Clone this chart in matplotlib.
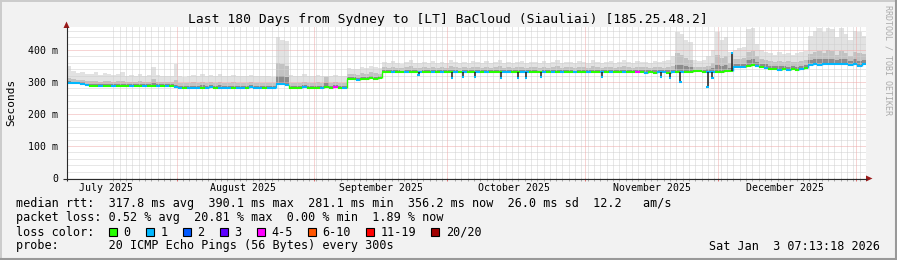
import datetime as dt
import numpy as np
import matplotlib
matplotlib.use("Agg")
import matplotlib.pyplot as plt
import matplotlib.dates as mdates
from matplotlib.patches import Rectangle, Polygon

# ---------------- data ----------------
title = "Last 180 Days from Sydney to [LT] BaCloud (Siauliai) [185.25.48.2]"
start = dt.datetime(2025, 7, 7, 7, 13, 18)
n_days = 180

# median rtt per day (ms)
median_ms = [296, 296, 296, 295, 290,
             288, 288, 289, 288, 288, 288, 287, 288, 288, 289, 288, 288, 287, 288, 288, 288, 289, 288, 288,
             283, 282, 282, 282, 281, 282, 282, 282, 283, 282, 282, 282, 282, 281, 282, 282, 282, 283, 282, 282, 282, 282, 282,
             293, 294, 292,
             282, 282, 282, 283, 282, 282, 282, 282, 284, 282, 283, 282, 282,
             310, 309, 306, 309, 310, 311, 310, 312,
             332, 331, 331, 330, 331, 330, 331, 330, 330, 330,
             331, 330, 331, 330, 330, 331, 331, 330, 330, 330,
             331, 331, 331, 330, 330, 331, 330, 330, 330, 331,
             330, 331, 330, 330, 331, 330, 330, 331, 330, 331,
             330, 330, 331, 330, 331, 330, 330, 331, 330, 330,
             331, 330, 331, 330, 331, 330, 330, 331, 330, 329,
             330, 329, 330,
             330, 328, 330, 331, 331, 332, 332, 333, 333, 332,
             332, 331, 331, 332, 333, 333, 346, 346, 346, 350,
             352, 350, 348, 345, 342, 340, 338, 341, 336, 340,
             338, 341, 344, 354, 355, 354, 356, 355, 357, 356,
             355, 356, 354, 355, 350, 356]

# short single-sample excursions of the median: (day offset, ms)
spike_day = [79.2, 86.7, 89.2, 91.9, 97.7, 101.6, 103.4, 106.8, 120.5,
             133.8, 135.9, 138.2, 144.3, 145.4, 149.8]
spike_ms = [322, 311, 316, 316, 314, 313, 314, 315, 316,
            317, 313, 301, 285, 312, 390]
spike_class = [1, 1, 1, 1, 1, 1, 1, 1, 1,
               1, 1, 1, 1, 1, 1]

# top of the dense smoke per day (ms)
smoke_dense_ms = [312, 308, 306, 306, 302,
                  302, 304, 300, 303, 302, 300, 302, 304, 300, 301, 299, 302, 300, 301, 310, 300, 299, 300, 299,
                  305, 297, 296, 298, 299, 297, 300, 298, 299, 297, 300, 298, 297, 299, 298, 297, 298, 299, 297, 298, 297, 298, 296,
                  360, 355, 350,
                  298, 296, 297, 300, 297, 298, 299, 297, 316, 297, 299, 298, 296,
                  326, 324, 322, 328, 326, 330, 327, 325,
                  346, 344, 348, 345, 343, 346, 349, 345, 344, 347,
                  345, 348, 344, 346, 345, 350, 346, 344, 347, 345,
                  348, 346, 344, 347, 345, 346, 349, 345, 347, 344,
                  346, 348, 345, 347, 346, 344, 348, 345, 346, 349,
                  345, 347, 346, 344, 348, 346, 345, 349, 347, 345,
                  346, 348, 345, 347, 349, 346, 345, 348, 346, 347,
                  345, 348, 346,
                  345, 348, 350, 390, 385, 375, 370, 348, 347, 348,
                  350, 360, 385, 375, 380, 360, 372, 372, 375, 395,
                  398, 380, 372, 370, 365, 362, 366, 364, 365, 362,
                  364, 366, 368, 388, 395, 398, 392, 400, 396, 385,
                  398, 392, 380, 395, 392, 388]

# maximum ping per day (ms)
smoke_max_ms = [350, 335, 328, 330, 326,
                325, 330, 322, 328, 325, 322, 325, 330, 320, 322, 318, 325, 320, 322, 348, 322, 318, 320, 318,
                355, 318, 315, 320, 322, 318, 325, 320, 322, 318, 325, 320, 318, 322, 320, 318, 320, 322, 318, 320, 318, 320, 315,
                440, 432, 428,
                322, 318, 320, 325, 318, 320, 322, 318, 320, 318, 322, 320, 318,
                345, 340, 342, 348, 345, 350, 346, 344,
                362, 358, 365, 360, 356, 362, 368, 360, 358, 364,
                360, 366, 358, 362, 360, 370, 362, 358, 364, 360,
                366, 362, 358, 365, 360, 362, 368, 360, 364, 358,
                362, 366, 360, 364, 362, 358, 366, 360, 362, 368,
                360, 364, 362, 358, 366, 362, 360, 368, 364, 360,
                362, 366, 360, 364, 368, 362, 360, 366, 362, 364,
                360, 366, 362,
                365, 370, 380, 455, 450, 430, 425, 370, 365, 368,
                380, 400, 455, 430, 440, 395, 400, 405, 410, 465,
                470, 420, 400, 395, 390, 385, 395, 388, 392, 385,
                390, 395, 398, 445, 460, 470, 455, 470, 465, 440,
                468, 450, 430, 460, 455, 445]

# loss class per day (index into loss_labels)
loss_class = [1, 1, 1, 1, 1,
              0, 0, 1, 0, 0, 1, 0, 0, 0, 1, 0, 0, 1, 0, 0, 1, 0, 1, 0,
              1, 1, 0, 1, 1, 1, 0, 1, 1, 0, 1, 1, 1, 0, 1, 1, 0, 1, 1, 1, 0, 1, 1,
              1, 1, 1,
              0, 0, 0, 1, 0, 0, 0, 1, 0, 0, 4, 0, 1,
              0, 0, 1, 0, 0, 0, 0, 0,
              0, 0, 1, 0, 0, 1, 0, 0, 1, 0,
              0, 1, 0, 1, 0, 0, 1, 0, 1, 0,
              0, 1, 0, 1, 0, 0, 0, 1, 1, 0,
              0, 1, 1, 0, 0, 0, 1, 0, 1, 0,
              1, 0, 0, 1, 0, 0, 1, 0, 0, 1,
              0, 1, 0, 0, 1, 0, 0, 4, 0, 1,
              0, 0, 1,
              1, 0, 1, 0, 1, 0, 0, 0, 0, 0,
              1, 1, 0, 0, 0, 0, 1, 1, 1, 0,
              0, 1, 0, 1, 0, 0, 1, 0, 1, 0,
              0, 1, 0, 1, 1, 1, 1, 1, 1, 1,
              1, 1, 1, 1, 1, 1]

loss_labels = ["0", "1", "2", "3", "4-5", "6-10", "11-19", "20/20"]
loss_colors = ["#26ff00", "#00b8ff", "#0059ff", "#5e00ff", "#ff00ff", "#ff5500", "#ff0000", "#a10000"]

month_starts = [dt.datetime(2025, m, 1) for m in (8, 9, 10, 11, 12)] + [dt.datetime(2026, 1, 1)]
month_label_dates = [dt.datetime(2025, m, 16) for m in (7, 8, 9, 10, 11, 12)]
month_labels = ["July 2025", "August 2025", "September 2025", "October 2025", "November 2025", "December 2025"]

y_ticks = [0, 100, 200, 300, 400]
y_tick_labels = ["0", "100 m", "200 m", "300 m", "400 m"]

legend_lines = [
    "median rtt:  317.8 ms avg  390.1 ms max  281.1 ms min  356.2 ms now  26.0 ms sd  12.2   am/s",
    "packet loss: 0.52 % avg  20.81 % max  0.00 % min  1.89 % now",
]
probe_text = "probe:       20 ICMP Echo Pings (56 Bytes) every 300s"
stamp_text = "Sat Jan  3 07:13:18 2026"

# ---------------- figure ----------------
W, H = 897, 260
MONO = "DejaVu Sans Mono"
fig = plt.figure(figsize=(W / 100, H / 100), dpi=100)
fig.patch.set_facecolor("#f2f2f2")

ax = fig.add_axes([67 / W, (H - 178) / H, 799 / W, 151 / H])
ax.set_facecolor("#ffffff")
t0 = mdates.date2num(start)
x_edges = t0 + np.arange(n_days + 1)
ax.set_xlim(t0, t0 + n_days)
ax.set_ylim(0, 151 * 3.125)
for s in ax.spines.values():
    s.set_visible(False)

med = np.array(median_ms, float)
dense = np.array(smoke_dense_ms, float)
mx = np.array(smoke_max_ms, float)

def ext(a):
    return np.r_[a, a[-1]]

ax.fill_between(x_edges, ext(med), ext(mx), step="post", color="#e2e2e2", lw=0, zorder=1)
ax.fill_between(x_edges, ext(med), ext(dense), step="post", color="#c2c2c2", lw=0, zorder=1.1)
ax.fill_between(x_edges, ext(med), ext(med + 0.4 * (dense - med)), step="post",
                color="#8c8c8c", lw=0, zorder=1.2)

# grid (dotted)
minor_c = "#d0d0d0"
major_c = "#eeaaaa"
gkw = dict(lw=0.72, ls=(0, (1, 1)))
for v in range(20, 480, 20):
    if v % 100:
        ax.axhline(v, color=minor_c, zorder=2, **gkw)
for v in y_ticks[1:]:
    ax.axhline(v, color=major_c, zorder=2.1, **gkw)
aug1 = mdates.date2num(month_starts[0])
k = np.arange(-10, 140)
minor_x = aug1 + 1.425 * k
minor_x = minor_x[(minor_x > t0) & (minor_x < t0 + n_days)]
ms_x = mdates.date2num(month_starts)
minor_x = np.array([xv for xv in minor_x if np.min(np.abs(ms_x - xv)) > 0.3])
for xv in minor_x:
    ax.axvline(xv, color=minor_c, zorder=2, **gkw)
for xv in ms_x:
    ax.axvline(xv, color=major_c, zorder=2.1, **gkw)

# small tick marks under x axis
xt = ax.get_xaxis_transform()
ax.vlines(minor_x, -2.5 / 151, 0, transform=xt, colors="#aaaaaa", lw=0.72, clip_on=False)
ax.vlines(ms_x, -2.5 / 151, 0, transform=xt, colors="#e07070", lw=0.72, clip_on=False)

# median line coloured by loss
cols = [loss_colors[c] for c in loss_class]
ax.hlines(med, x_edges[:-1], x_edges[1:], colors=cols, lw=1.5, zorder=4)
ax.vlines(x_edges[1:-1], med[:-1], med[1:], colors=cols[1:], lw=1.0, zorder=4)

# narrow excursions: dark smoke streak plus coloured tip
sd = t0 + np.array(spike_day)
base = med[np.floor(spike_day).astype(int)]
ax.vlines(sd, base, np.array(spike_ms, float), colors="#1e1e1e", lw=1.1, zorder=4.2)
ax.hlines(np.array(spike_ms, float), sd - 0.25, sd + 0.25,
          colors=[loss_colors[c] for c in spike_class], lw=1.5, zorder=4.3)

# ticks / labels
ax.set_xticks(mdates.date2num(month_label_dates))
ax.set_xticklabels(month_labels, fontfamily=MONO, fontsize=7.1)
ax.set_yticks(y_ticks)
ax.set_yticklabels(y_tick_labels, fontfamily=MONO, fontsize=7.1)
ax.tick_params(axis="x", length=0, pad=3.5)
ax.tick_params(axis="y", length=0, pad=6.2)

# ---------------- overlay in pixel coords ----------------
ov = fig.add_axes([0, 0, 1, 1], zorder=5)
ov.set_xlim(0, W)
ov.set_ylim(H, 0)
ov.axis("off")
ov.patch.set_alpha(0)

axis_c = "#2a2a2a"
arrow_c = "#9a1a1a"
ov.plot([66.5, 66.5], [181, 27], color=axis_c, lw=0.8, solid_capstyle="butt")
ov.plot([63, 867], [178.5, 178.5], color=axis_c, lw=0.8, solid_capstyle="butt")
ov.add_patch(Polygon([[63.5, 28], [69.5, 28], [66.5, 21.5]], closed=True, color=arrow_c, lw=0))
ov.add_patch(Polygon([[866, 175.5], [866, 181.5], [872.5, 178.5]], closed=True, color=arrow_c, lw=0))

ov.text(448, 19, title, ha="center", va="center", fontfamily=MONO, fontsize=9.4, color="#000000")
ov.text(11, 102, "Seconds", rotation=90, ha="center", va="center", fontfamily=MONO, fontsize=8, color="#000000")
ov.text(888, 5, "RRDTOOL / TOBI OETIKER", rotation=270, ha="center", va="top", fontfamily=MONO,
        fontsize=6.0, color="#ababab")

ov.text(16, 204, legend_lines[0], ha="left", va="center", fontfamily=MONO, fontsize=8.5, color="#000000")
ov.text(16, 218, legend_lines[1], ha="left", va="center", fontfamily=MONO, fontsize=8.5, color="#000000")
ov.text(16, 232, "loss color:", ha="left", va="center", fontfamily=MONO, fontsize=8.5, color="#000000")
bx = 108.5
for lab, colr in zip(loss_labels, loss_colors):
    ov.add_patch(Rectangle((bx, 228), 8, 8, facecolor=colr, edgecolor="#000000", lw=0.8))
    ov.text(bx + 15, 232, lab, ha="left", va="center", fontfamily=MONO, fontsize=8.5, color="#000000")
    bx += 37 + 7.1 * (len(lab) - 1)
ov.text(16, 246, probe_text, ha="left", va="center", fontfamily=MONO, fontsize=8.5, color="#000000")
ov.text(880, 246, stamp_text, ha="right", va="center", fontfamily=MONO, fontsize=8.5, color="#000000")

# frame shading
ov.plot([0.5, W - 0.5], [0.8, 0.8], color="#cbcbcb", lw=1.4)
ov.plot([0.8, 0.8], [0.5, H - 0.5], color="#cbcbcb", lw=1.4)
ov.plot([0, W], [H - 1, H - 1], color="#999999", lw=1.5)
ov.plot([W - 1, W - 1], [0, H], color="#999999", lw=1.5)

fig.savefig("out.png", dpi=100, facecolor=fig.get_facecolor())
